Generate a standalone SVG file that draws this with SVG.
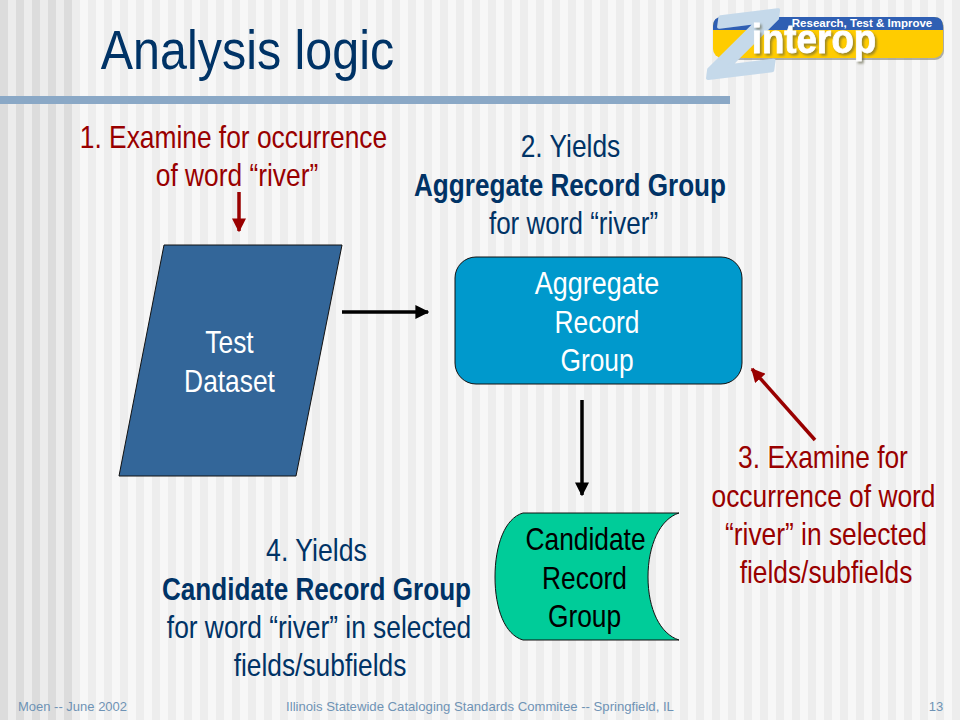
<svg xmlns="http://www.w3.org/2000/svg" width="960" height="720" viewBox="0 0 960 720">
<style>
text{font-family:"Liberation Sans",Arial,sans-serif;text-anchor:middle}
.t{font-size:31px}
.r{fill:#990000}
.n{fill:#003366}
.w{fill:#ffffff}
.k{fill:#000000}
.b{font-weight:bold}
.f{font-size:13px;fill:#6f93b5}
.c{fill:none;stroke:#000;stroke-width:3.5}
.cr{fill:none;stroke:#990000;stroke-width:3.5}
</style>
<defs>
<pattern id="s1" width="16" height="16" patternUnits="userSpaceOnUse"><rect width="16" height="16" fill="#f7f7f7"/><rect x="8" width="8" height="16" fill="#ededed"/></pattern>
<pattern id="s2" width="16" height="16" patternUnits="userSpaceOnUse"><rect width="16" height="16" fill="#ececec"/><rect x="0" width="8" height="16" fill="#dcdcdc"/></pattern>
<marker id="ak" markerWidth="4" markerHeight="4" refX="3.6" refY="2" orient="auto"><path d="M0 0L4 2L0 4Z" fill="#000"/></marker>
<marker id="ar" markerWidth="4" markerHeight="4" refX="3.6" refY="2" orient="auto"><path d="M0 0L4 2L0 4Z" fill="#990000"/></marker>
</defs>
<rect width="960" height="720" fill="url(#s1)"/>
<rect width="72" height="720" fill="url(#s2)"/>
<rect x="0" y="96" width="730" height="8" fill="#8aa8c6"/>
<text transform="translate(247.500 69) scale(.865 1)" font-size="56" fill="#003366">Analysis logic</text>
<g id="logo">
<rect x="716" y="19" width="228" height="41" rx="9" fill="#77776a" opacity=".55"/>
<rect x="713" y="17" width="230" height="41" rx="9" fill="#ffcc00"/>
<path d="M713 30V26Q713 17 722 17H934Q943 17 943 26V30Z" fill="#2f5fb3"/>
<text x="862" y="27" font-size="11.500" font-weight="bold" class="w">Research, Test &amp; Improve</text>
<text transform="translate(711 78) rotate(-7) scale(1.32 .98)" style="text-anchor:start" font-size="88" font-weight="bold" font-style="italic" fill="#c5d9ea" stroke="#c5d9ea" stroke-width="3.500" stroke-linejoin="round">Z</text>
<text transform="translate(814 53) scale(.92 1)" font-size="40" font-weight="bold" class="w" stroke="#fff" stroke-width=".8" style="filter:drop-shadow(2px 2px 1px rgba(90,90,60,.6))">interop</text>
</g>
<g id="connectors">
<path class="cr" d="M239 192V231" marker-end="url(#ar)"/>
<path class="c" d="M342 312H428" marker-end="url(#ak)"/>
<path class="c" d="M582 400V495" marker-end="url(#ak)"/>
<path class="cr" d="M815 440L752 369" marker-end="url(#ar)"/>
</g>
<g id="test-dataset">
<path d="M164 245H342L296 476H119Z" fill="#336699" stroke="#111" stroke-width="1"/>
<text class="t w" transform="translate(229.500 353) scale(.85 1)">Test</text>
<text class="t w" transform="translate(229.500 392) scale(.85 1)">Dataset</text>
</g>
<g id="aggregate-record-group">
<rect x="455" y="257" width="287" height="127" rx="21" fill="#0099cc" stroke="#111" stroke-width="1"/>
<text class="t w" transform="translate(597 294) scale(.87 1)">Aggregate</text>
<text class="t w" transform="translate(597 333) scale(.85 1)">Record</text>
<text class="t w" transform="translate(597 371) scale(.85 1)">Group</text>
</g>
<g id="candidate-record-group">
<path d="M679 513H523C505 518 495 545 495 577C495 609 505 635 523 640H679C660 634 648 609 648 577C648 545 660 519 679 513Z" fill="#00cc99" stroke="#111" stroke-width="1"/>
<text class="t k" transform="translate(585.500 550) scale(.85 1)">Candidate</text>
<text class="t k" transform="translate(584.500 589) scale(.85 1)">Record</text>
<text class="t k" transform="translate(584.500 627) scale(.85 1)">Group</text>
</g>
<g id="labels">
<text class="t r" transform="translate(233.500 148) scale(.85 1)">1. Examine for occurrence</text>
<text class="t r" transform="translate(237 186) scale(.85 1)">of word “river”</text>
<text class="t n" transform="translate(570.500 157) scale(.85 1)">2. Yields</text>
<text class="t n b" transform="translate(570 196) scale(.843 1)">Aggregate Record Group</text>
<text class="t n" transform="translate(573.500 234) scale(.84 1)">for word “river”</text>
<text class="t r" transform="translate(823 468) scale(.85 1)">3. Examine for</text>
<text class="t r" transform="translate(823.500 507) scale(.85 1)">occurrence of word</text>
<text class="t r" transform="translate(826 545) scale(.85 1)">“river” in selected</text>
<text class="t r" transform="translate(826 583) scale(.85 1)">fields/subfields</text>
<text class="t n" transform="translate(316.500 561) scale(.86 1)">4. Yields</text>
<text class="t n b" transform="translate(316.500 600) scale(.843 1)">Candidate Record Group</text>
<text class="t n" transform="translate(319 638) scale(.85 1)">for word “river” in selected</text>
<text class="t n" transform="translate(320 676) scale(.85 1)">fields/subfields</text>
</g>
<g id="footer">
<text class="f" x="72.500" y="711">Moen -- June 2002</text>
<text class="f" x="480" y="711" style="font-size:13.150px">Illinois Statewide Cataloging Standards Commitee -- Springfield, IL</text>
<text class="f" x="936" y="711">13</text>
</g>
</svg>
